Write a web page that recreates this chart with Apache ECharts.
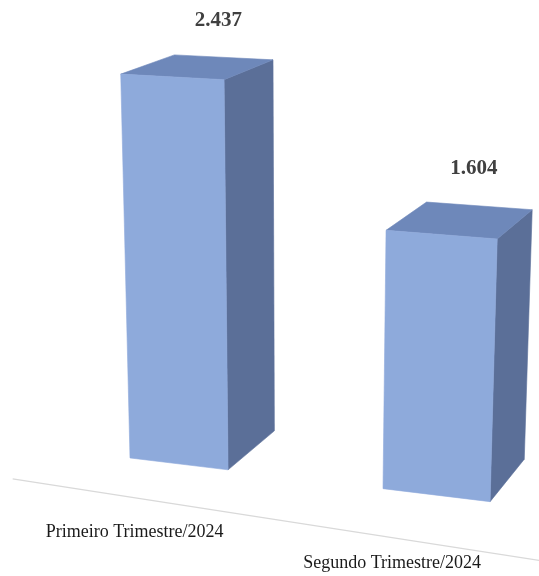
<!DOCTYPE html>
<html>
<head>
<meta charset="utf-8">
<script src="https://cdn.jsdelivr.net/npm/echarts@6/dist/echarts.min.js"></script>
<style>
  html, body { margin: 0; padding: 0; background: #ffffff; }
  #chart { width: 539px; height: 576px; }
</style>
</head>
<body>
<div id="chart"></div>
<script>
// ---- data ----
const categories = ['Primeiro Trimestre/2024', 'Segundo Trimestre/2024'];
const values = [2437, 1604];
const valueMax = 3000;

// ---- styling / projection parameters (not data) ----
const COLORS = { front: '#8EAADB', top: '#6E88BA', side: '#5B6F98', floor: '#D9D9D9' };
const BAR_RATIO = 0.398;   // bar width as a fraction of the category band
const DEPTH = 50;          // bar depth in flat pixels
// perspective projection of the flat grid (s: px from grid left, v: px above grid bottom, z: depth)
const PROJ = {
  ox: 58.03, oy: 449.2,
  ax: 0.9291, ay: 0.0388, wx: -1.6735e-4,
  bx: -0.0393, by: -0.9816, wy: -1.3088e-4,
  cx: 1.1886, cy: -0.3021, wz: 0.0010564
};
function project(s, v, z) {
  const p = PROJ;
  const den = 1 + p.wx * s + p.wy * v + p.wz * z;
  return [(p.ox + p.ax * s + p.bx * v + p.cx * z) / den,
          (p.oy + p.ay * s + p.by * v + p.cy * z) / den];
}
function fmt(n) {
  return String(n).replace(/\B(?=(\d{3})+(?!\d))/g, '.');
}

function renderBar(params, api) {
  const i = api.value(0);
  const val = api.value(1);
  const cs = params.coordSys;
  const base = api.coord([i, 0]);
  const topPt = api.coord([i, val]);
  const band = api.size([1, 0])[0];
  const w = band * BAR_RATIO;
  const bottom = cs.y + cs.height;
  const sc = base[0] - cs.x;
  const s0 = sc - w / 2, s1 = sc + w / 2;
  const v0 = bottom - base[1], v1 = bottom - topPt[1];
  const D = DEPTH;
  const poly = (pts, color) => ({
    type: 'polygon',
    shape: { points: pts },
    style: { fill: color, stroke: color, lineWidth: 0.6 }
  });
  const front = [project(s0, v0, 0), project(s1, v0, 0), project(s1, v1, 0), project(s0, v1, 0)];
  const top = [project(s0, v1, 0), project(s1, v1, 0), project(s1, v1, D), project(s0, v1, D)];
  const side = [project(s1, v0, 0), project(s1, v0, D), project(s1, v1, D), project(s1, v1, 0)];
  const lab = project(sc, v1, D);
  const cat = project(sc, v0, 0);
  return {
    type: 'group',
    children: [
      poly(side, COLORS.side),
      poly(top, COLORS.top),
      poly(front, COLORS.front),
      {
        type: 'text',
        x: lab[0] - 5, y: lab[1] - 37,
        style: {
          text: fmt(values[i]),
          fontFamily: '"Liberation Serif", "Times New Roman", serif',
          fontWeight: 'bold', fontSize: 21, fill: '#404040',
          align: 'center', verticalAlign: 'middle'
        }
      },
      {
        type: 'text',
        x: cat[0] - 44, y: cat[1] + 68,
        style: {
          text: categories[i],
          fontFamily: '"Liberation Serif", "Times New Roman", serif',
          fontSize: 18, fill: '#1a1a1a',
          align: 'center', verticalAlign: 'middle'
        }
      }
    ]
  };
}

function renderFloor(params, api) {
  const cs = params.coordSys;
  const a = project(-2, 0, -37);
  const b = project(cs.width + 2, 0, -50);
  return {
    type: 'line',
    shape: { x1: a[0], y1: a[1], x2: b[0], y2: b[1] },
    style: { stroke: COLORS.floor, lineWidth: 1.2 }
  };
}

const chart = echarts.init(document.getElementById('chart'), null, { renderer: 'canvas' });
chart.setOption({
  animation: false,
  backgroundColor: '#ffffff',
  grid: { left: 18, top: 60, width: 503, height: 480 },
  xAxis: { type: 'category', data: categories, show: false },
  yAxis: { type: 'value', min: 0, max: valueMax, show: false },
  series: [
    {
      type: 'custom',
      renderItem: renderFloor,
      data: [[0, 0]],
      silent: true,
      z: 1
    },
    {
      type: 'custom',
      renderItem: renderBar,
      data: values.map((v, i) => [i, v]),
      z: 2
    }
  ]
});
</script>
</body>
</html>
